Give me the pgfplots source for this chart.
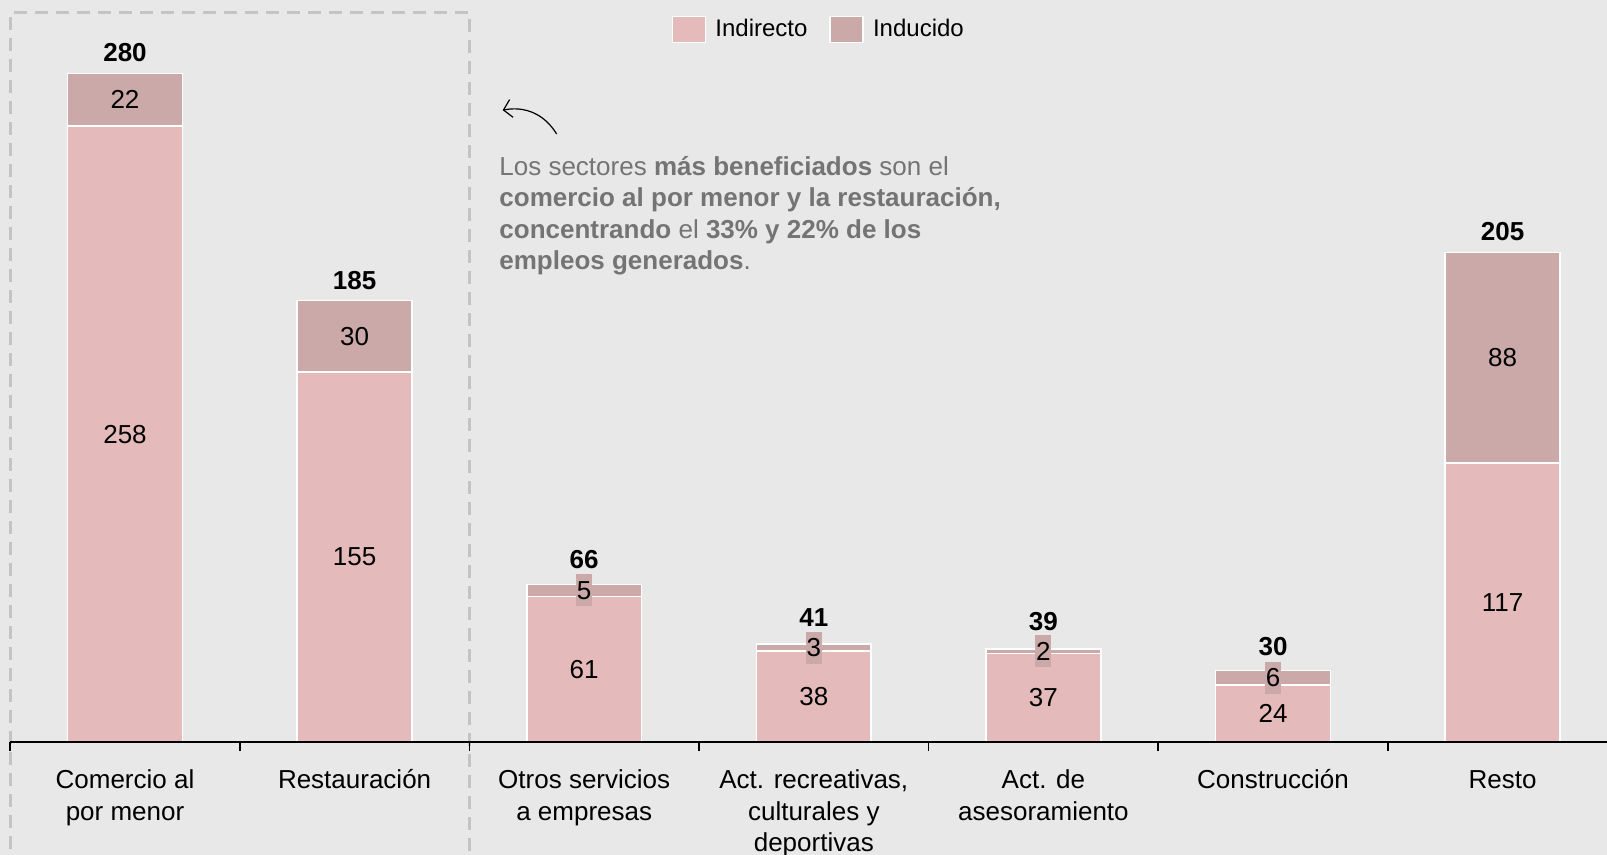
\documentclass[border=0pt]{standalone}
\usepackage{pgfplots}
\usepackage{pgfplotstable}
\pgfplotsset{compat=1.18}
\usetikzlibrary{arrows.meta}
\usepackage{fontspec}
\setmainfont{Liberation Sans}

\definecolor{bg}{HTML}{E8E8E8}
\definecolor{indir}{HTML}{E4BABA}
\definecolor{indu}{HTML}{CBA9A9}
\definecolor{dashgray}{HTML}{C4C4C4}
\definecolor{note}{HTML}{747474}

% empleo indirecto / inducido por sector; off = hueco (pt) del total sobre la barra
\pgfplotstableread{
x ind indu tot off
0 258 22 280 6
1 155 30 185 5.6
2 61 5 66 7.8
3 38 3 41 9
4 37 2 39 9.3
5 24 6 30 7.2
6 117 88 205 6
}\empleo

\pgfplotsset{
  base/.style={anchor=origin, at={(0pt,0pt)}, x=114.8pt, y=1.1935pt,
    xmin=-0.5, xmax=6.455, ymin=0, ymax=310, clip=false},
}

\begin{document}
\begin{tikzpicture}[font=\fontsize{13}{15.8}\selectfont]
\fill[bg] (-62.5pt,-56.5pt) rectangle (741pt,371pt);
\begin{axis}[
  base,
  axis on top,
  ybar stacked, bar width=0.5,
  axis x line*=bottom, axis y line=none,
  axis line style={line width=1.4pt, black},
  xtick={-0.5,0.5,...,5.5}, xticklabels={},
  tick align=outside, major tick length=4.5pt,
  tick style={black, line width=0.8pt},
  ytick=\empty,
  extra x ticks={0,...,6},
  extra x tick labels={{Comercio al\\por menor},Restauración,{Otros servicios\\a empresas},{Act. recreativas,\\culturales y\\deportivas},{Act. de\\asesoramiento},Construcción,Resto},
  extra x tick style={major tick length=0pt},
  typeset ticklabels with strut,
  xticklabel style={align=center, anchor=north, inner sep=0pt, yshift=-12pt,
    font=\fontsize{13}{15.8}\selectfont},
  legend style={at={(0.507,0.963)}, anchor=center, draw=none, fill=none,
    legend columns=2, font=\fontsize{12}{14}\selectfont,
    /tikz/every odd column/.append style={column sep=2.5pt},
    /tikz/every even column/.append style={column sep=9pt}},
  legend image code/.code={\draw[#1, draw=white, line width=0.8pt] (0pt,-6.5pt) rectangle (16.5pt,6.5pt);},
]
\addplot[fill=indir, draw=white, line width=0.8pt,
  nodes near coords, point meta=explicit symbolic,
  every node near coord/.style={black, anchor=center, font=\fontsize{13}{15.8}\selectfont}]
  table[x=x, y=ind, meta=ind] {\empleo};
\addplot[fill=indu, draw=white, line width=0.8pt,
  nodes near coords, point meta=explicit symbolic,
  every node near coord/.style={black, fill=indu, anchor=center, inner xsep=0.4pt,
    inner ysep=0pt, minimum height=16pt, font=\fontsize{13}{15.8}\selectfont}]
  table[x=x, y=indu, meta=indu] {\empleo};
\legend{Indirecto,Inducido}

\draw[dashgray, line width=1.5pt, dash pattern=on 6.5pt off 4pt]
  (axis cs:-0.5,-80) -- (axis cs:-0.5,305.5) -- (axis cs:1.5,305.5) -- (axis cs:1.5,-80);
\draw[line width=0.6pt, -{Straight Barb[length=4pt,width=9pt]}]
  (axis cs:1.880,254.7) to[bend right=35] (axis cs:1.645,264.7);
\node[anchor=base west, text=note, align=left, inner sep=0pt,
  font=\fontsize{13}{15.8}\selectfont] at (axis cs:1.629,197.8)
  {Los sectores \textbf{más beneficiados} son el\\
   \textbf{comercio al por menor y la restauración,}\\
   \textbf{concentrando} el \textbf{33\% y 22\% de los}\\
   \textbf{empleos generados}.};
\end{axis}
% totales sobre cada barra
\begin{axis}[base, hide axis]
\addplot[draw=none, mark=none,
  nodes near coords, point meta=explicit symbolic,
  visualization depends on={\thisrow{off} \as \toff},
  every node near coord/.style={black, anchor=base, inner sep=0pt, yshift=\toff pt,
    font=\fontsize{13}{15.8}\selectfont\bfseries}]
  table[x=x, y=tot, meta=tot] {\empleo};
\end{axis}
\pgfresetboundingbox
\useasboundingbox (-62.5pt,-56.5pt) rectangle (741pt,371pt);
\end{tikzpicture}
\end{document}
